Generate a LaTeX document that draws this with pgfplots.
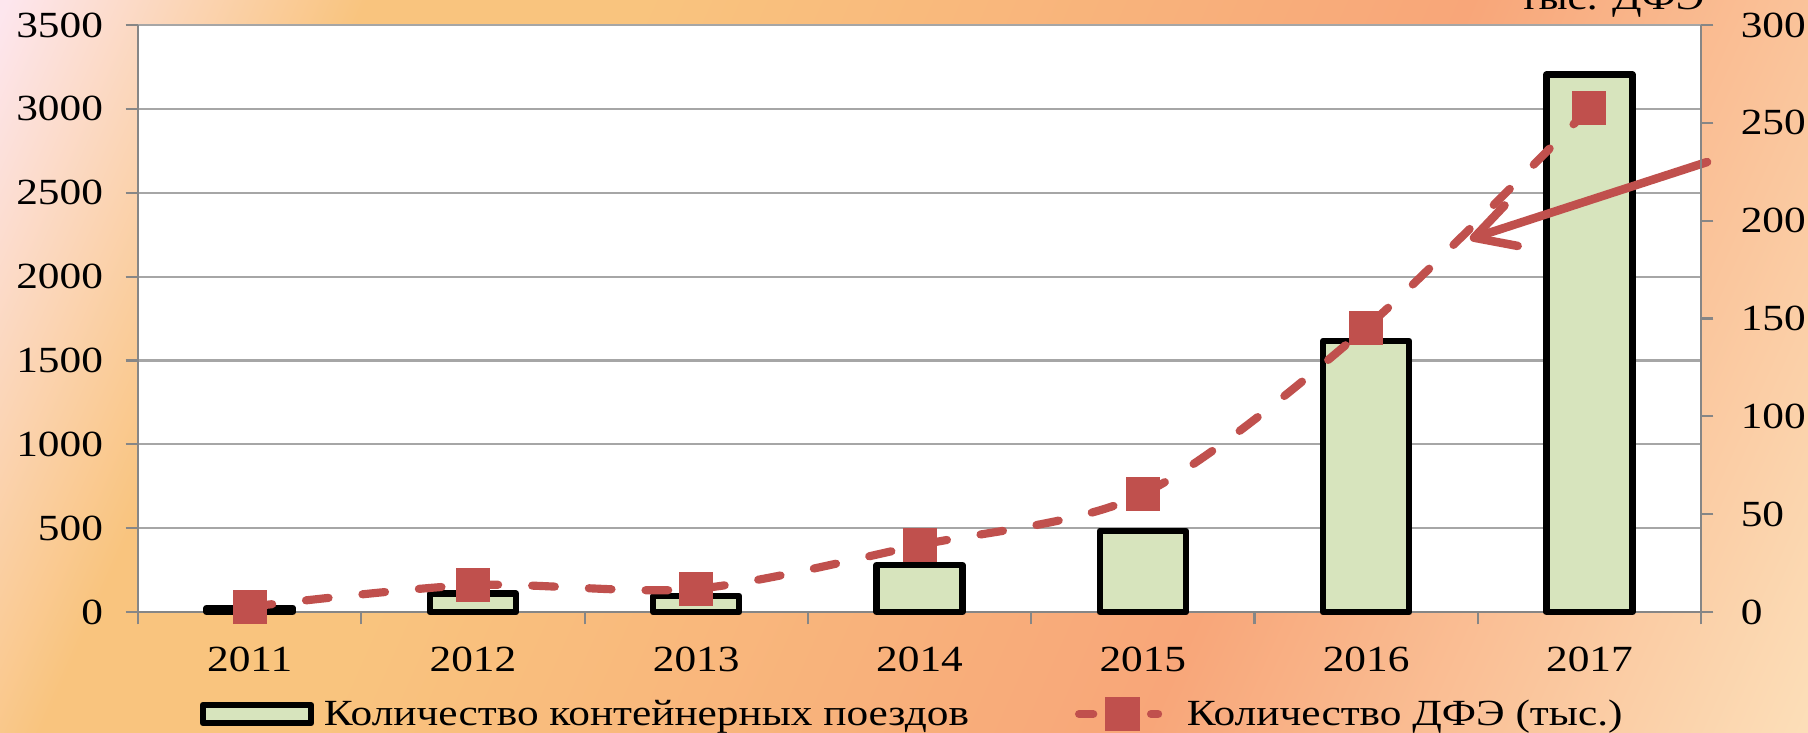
\documentclass[border=0pt]{standalone}
\usepackage{fontspec}
\setmainfont{Liberation Serif}[FakeStretch=1.175]
\usepackage{pgfplots}
\pgfplotsset{compat=1.18}
\usetikzlibrary{arrows.meta}
\definecolor{barfill}{HTML}{D7E4BD}
\definecolor{linered}{HTML}{C0504D}
\definecolor{axgray}{HTML}{868686}
\definecolor{gridgray}{HTML}{A6A6A6}
\definecolor{bgpink}{HTML}{FDE6EE}
\definecolor{bgorange}{HTML}{F9C47E}
\definecolor{bgsalmon}{HTML}{F8A679}
\definecolor{bgpeach}{HTML}{FCDEB8}
\pgfdeclarehorizontalshading{bgshade}{100bp}{color(0bp)=(bgpink); color(17bp)=(bgpink); color(28.2bp)=(bgorange); color(36.8bp)=(bgorange); color(62.6bp)=(bgsalmon); color(83bp)=(bgpeach); color(100bp)=(bgpeach)}
\newcommand\chfont{\fontsize{10.4}{12}\selectfont}

\pgfplotstableread{
x y
0 25
1 110
2 95
3 280
4 485
5 1616
6 3205
}\trains
\pgfplotstableread{
x y
0 2.7
1 13.8
2 11.9
3 34.2
4 60.3
5 145.4
6 257.6
}\teu

\begin{document}
\begin{tikzpicture}
\useasboundingbox (0,0) rectangle (510pt,206.5pt);
\clip (0,0) rectangle (510pt,206.5pt);
\shade[shading=bgshade, shading angle=-24] (0,0) rectangle (510pt,206.5pt);
\node[anchor=base east, inner sep=0pt, font=\chfont] at (481pt,203.7pt) {тыс. ДФЭ};

\pgfplotsset{
  common/.style={
    at={(38.93pt,33.85pt)}, anchor=south west,
    width=440.9pt, height=165.6pt, scale only axis,
    xmin=-0.5, xmax=6.5,
    tick align=outside,
    major tick length=3.5pt, minor tick length=3.5pt,
    axis line style={-, axgray, line width=0.8pt},
    x axis line style={-}, y axis line style={-},
    tick style={axgray, line width=0.6pt},
    tick label style={font=\chfont, inner sep=0pt},
    /pgf/number format/assume math mode=true,
    /pgf/number format/1000 sep={},
  }
}

\begin{axis}[common,
  ymin=0, ymax=3500,
  axis background/.style={fill=white},
  axis x line*=bottom, axis y line*=left,
  ytick={0,500,...,3500},
  ymajorgrids, grid style={gridgray, line width=0.6pt},
  xtick={0,1,2,3,4,5,6},
  xticklabels={2011,2012,2013,2014,2015,2016,2017},
  major x tick style={draw=none},
  minor xtick={-0.5,0.5,1.5,2.5,3.5,4.5,5.5,6.5},
  xticklabel style={anchor=north, yshift=-6.1pt},
  yticklabel style={anchor=east, xshift=-6.2pt},
  clip=false,
]
\addplot[ybar, bar width=0.385, draw=black, line width=1.8pt, line join=round, fill=barfill] table[x=x,y=y] {\trains};
\draw[linered, line width=2.4pt, line cap=round, -{Straight Barb[length=11pt, width=12pt, line cap=round, line join=round]}]
  (axis cs:6.527,2683) -- (axis cs:5.465,2224);
\end{axis}

\begin{axis}[common,
  ymin=0, ymax=300,
  axis x line=none, axis y line*=right,
  ytick={0,50,...,300},
  yticklabel style={anchor=west, xshift=7.5pt},
  legend columns=2,
  legend cell align=left,
  legend style={at={(axis description cs:0.0389,-0.1737)}, anchor=west,
    draw=none, fill=none, inner sep=0pt, font=\chfont,
    nodes={inner sep=0pt},
    /tikz/every odd column/.append style={column sep=2.7pt},
    /tikz/every even column/.append style={column sep=29.9pt}},
]
\addlegendimage{legend image code/.code={\draw[black, line width=1.8pt, fill=barfill, line join=round] (0.9pt,-2.1pt) rectangle (31.5pt,2.9pt);}}
\addlegendentry{Количество контейнерных поездов}
\addlegendimage{legend image code/.code={\draw[linered, line width=2.3pt, line cap=round] (1.1pt,0.4pt)--(5.1pt,0.4pt) (21.4pt,0.4pt)--(23.4pt,0.4pt); \fill[linered] (8.6pt,-4.3pt) rectangle (18pt,5.1pt); \path[draw=none] (0pt,0.4pt) -- (28.8pt,0.4pt);}}
\addlegendentry{Количество ДФЭ (тыс.)}
\addplot[forget plot, linered, line width=2.3pt, dash pattern=on 6.4pt off 9.6pt, line cap=round, smooth,
  mark=square*, mark size=4.6pt, mark options={solid, fill=linered, draw=linered, line width=0.4pt}]
  table[x=x,y=y] {\teu};
\end{axis}
\end{tikzpicture}
\end{document}
